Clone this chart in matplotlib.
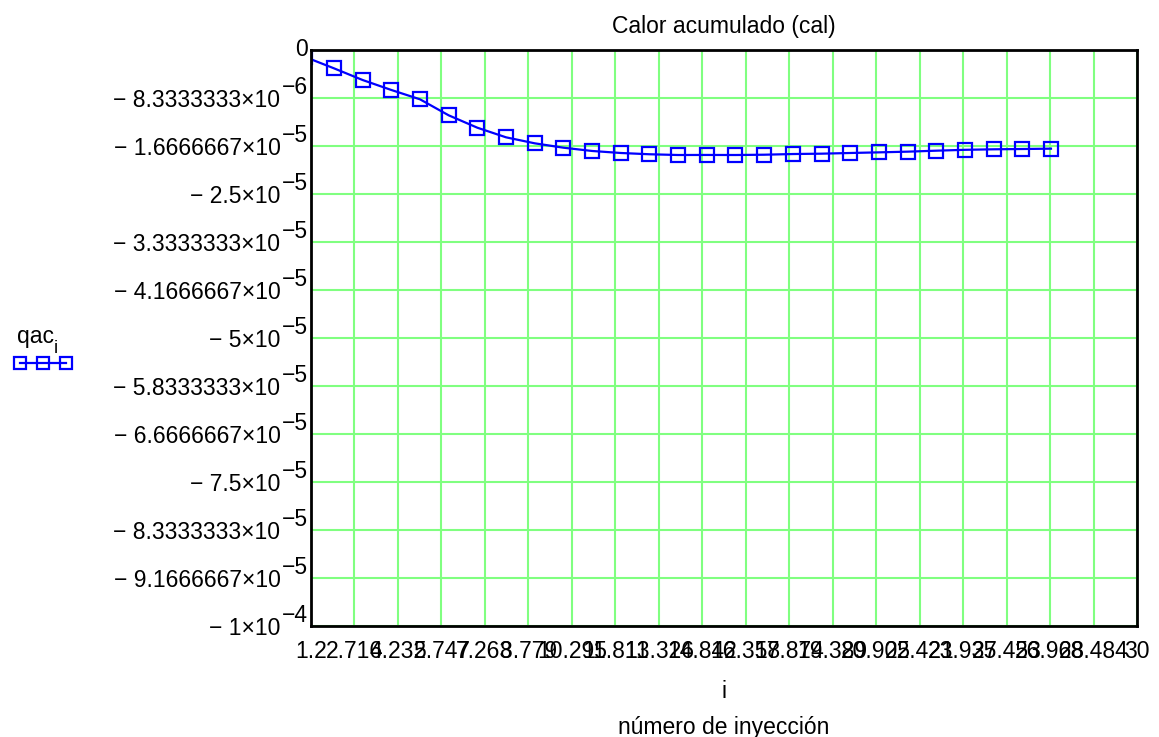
import numpy as np
import matplotlib
matplotlib.use('Agg')
import matplotlib.pyplot as plt
from matplotlib.transforms import ScaledTranslation

plt.rcParams['font.family'] = ['Liberation Sans', 'DejaVu Sans']

# injection number and accumulated heat (cal)
inyeccion = list(range(1, 28))
qac = [-1.22e-6, -3.18e-6, -5.21e-6, -6.94e-6, -8.56e-6, -11.34e-6, -13.49e-6,
       -15.16e-6, -16.20e-6, -16.96e-6, -17.53e-6, -17.88e-6, -18.10e-6,
       -18.23e-6, -18.22e-6, -18.23e-6, -18.18e-6, -18.06e-6, -18.00e-6,
       -17.88e-6, -17.77e-6, -17.65e-6, -17.48e-6, -17.33e-6, -17.24e-6,
       -17.19e-6, -17.13e-6]

xmin, xmax = 1.2, 30
ymin, ymax = -1e-4, 0
xticks = np.linspace(xmin, xmax, 20)
yticks = np.linspace(ymax, ymin, 13)
FS = 16.5


def xlab(v):
    return f'{v:.3f}'.rstrip('0').rstrip('.')


def ylab(v):
    # mantissa part, exponent drawn separately
    if v == 0:
        return '', '0'
    e = int(np.floor(np.log10(abs(v)) + 1e-9))
    m = abs(v) / 10 ** e
    ms = f'{m:.7f}'.rstrip('0').rstrip('.')
    return '\u2212 ' + ms + '\u00d710', '\u2212' + str(-e)


fig = plt.figure(figsize=(11.59, 7.37), dpi=100)
ax = fig.add_axes([311 / 1159, 1 - 626 / 737, (1137 - 311) / 1159, (626 - 50) / 737])

line, = ax.plot(inyeccion, qac, color='#0000ff', lw=1.6, marker='s', ms=10,
                mfc='none', mew=1.6, clip_on=True)

ax.set_xlim(xmin, xmax)
ax.set_ylim(ymin, ymax)
ax.set_xticks(xticks)
ax.set_xticklabels([xlab(v) for v in xticks])
ax.set_yticks(yticks)
labs = [ylab(v) for v in yticks]
ax.set_yticklabels([l[0] for l in labs])
ax.tick_params(length=0, labelsize=FS, colors='black')
ax.tick_params(axis='x', pad=10)
ax.tick_params(axis='y', pad=22)

tr = ax.get_yaxis_transform()
for v, (m, ex) in zip(yticks, labs):
    if v == 0:
        off = ScaledTranslation(-3 / 100, 0, fig.dpi_scale_trans)
        ax.text(0, v, ex, transform=tr + off, ha='right', va='center', fontsize=FS)
    else:
        off = ScaledTranslation(-3 / 100, 4 / 100, fig.dpi_scale_trans)
        ax.text(0, v, ex, transform=tr + off, ha='right', va='baseline', fontsize=FS)

ax.grid(True, color='#80ff80', lw=1.5)
ax.set_axisbelow(True)
for s in ax.spines.values():
    s.set_linewidth(2)
    s.set_color('black')

ax.set_title('Calor acumulado (cal)', fontsize=FS, pad=12)
ax.set_xlabel('i\nnúmero de inyección', fontsize=FS, linespacing=1.72, labelpad=12)

# legend: name with subscript, then the line sample
fig.text(17 / 1159, 1 - 343 / 737, 'qac', fontsize=FS, va='baseline')
fig.text(54 / 1159, 1 - 353 / 737, 'i', fontsize=13, va='baseline')
fig.legend(handles=[line], labels=[''], loc='center',
           bbox_to_anchor=(43 / 1159, 1 - 365 / 737),
           frameon=False, numpoints=3, handlelength=2.6, markerscale=0.85,
           fontsize=FS, handletextpad=0, borderpad=0)

fig.savefig('out.png', dpi=100)
